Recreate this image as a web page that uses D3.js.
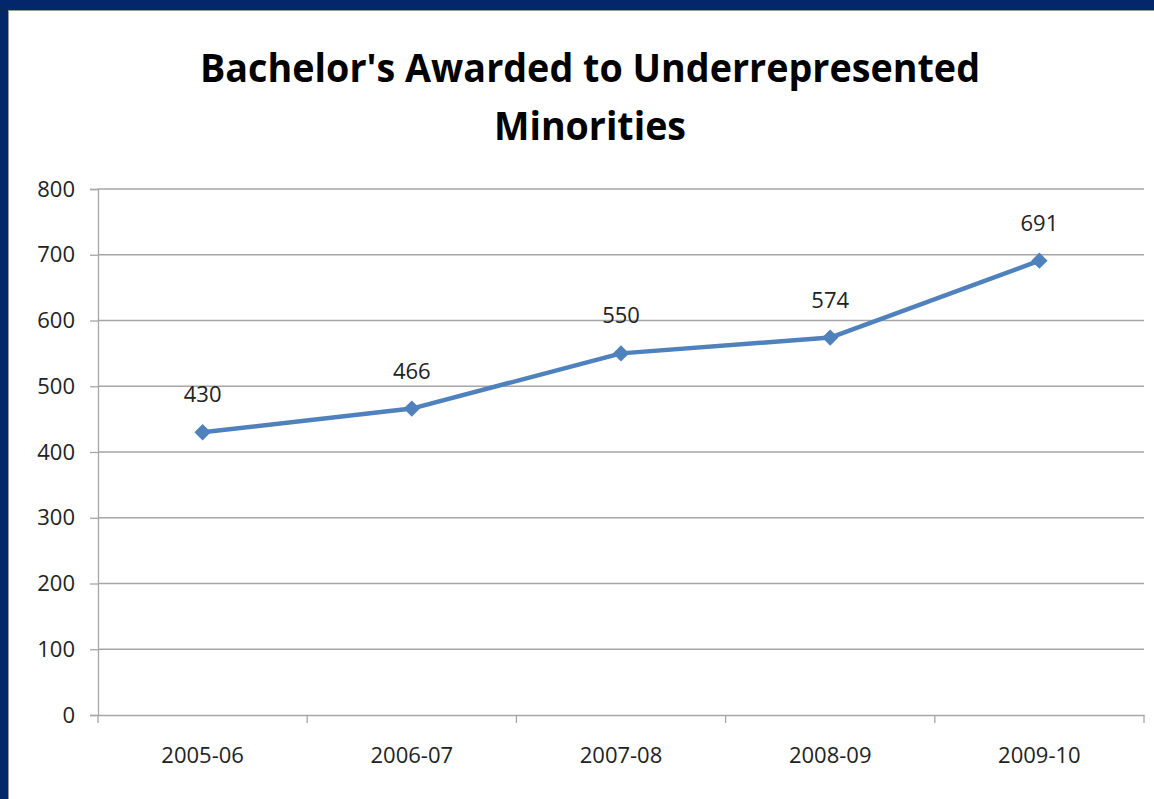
<!DOCTYPE html>
<html><head><meta charset="utf-8">
<script src="https://cdn.jsdelivr.net/npm/d3@7"></script>
<style>html,body{margin:0;padding:0;background:#fff;overflow:hidden}</style>
</head><body>
<svg id="c" width="1154" height="799"></svg>
<script>
const categories = ["2005-06","2006-07","2007-08","2008-09","2009-10"];
const values = [430,466,550,574,691];
const yTicks = [0,100,200,300,400,500,600,700,800];
const titleLines = ["Bachelor's Awarded to Underrepresented","Minorities"];

const svg = d3.select("#c");
const font = "'Open Sans', 'Noto Sans', sans-serif";
// frame
svg.append("rect").attr("x",0).attr("y",0).attr("width",1154).attr("height",799).attr("fill","#04266A");
svg.append("rect").attr("x",8).attr("y",10).attr("width",1146).attr("height",789).attr("fill","#9a9a9a");
svg.append("rect").attr("x",9).attr("y",11).attr("width",1145).attr("height",788).attr("fill","#fff");

const L=98,R=1144,T=189,B=715;
const x = d3.scaleBand().domain(categories).range([L,R]).padding(0);
const y = d3.scaleLinear().domain([0,800]).range([B,T]);

// title
svg.append("g").selectAll("text").data(titleLines).join("text")
  .attr("x",590).attr("y",(d,i)=>82+i*58).attr("text-anchor","middle")
  .attr("font-family",font).attr("font-weight","bold").attr("font-size",40)
  .attr("fill","#000").attr("textLength",(d,i)=>i===0?780:192).attr("lengthAdjust","spacingAndGlyphs")
  .text(d=>d);

// gridlines
svg.append("g").selectAll("line").data(yTicks.filter(d=>d>0)).join("line")
  .attr("x1",L).attr("x2",R).attr("y1",d=>y(d)).attr("y2",d=>y(d))
  .attr("stroke","#a6a6a6").attr("stroke-width",1.3);

// y axis
const ya = svg.append("g").attr("transform",`translate(${L},0)`)
  .call(d3.axisLeft(y).tickValues(yTicks).tickSize(8).tickPadding(15));
ya.select(".domain").attr("stroke","#a6a6a6").attr("stroke-width",1.3);
ya.selectAll(".tick line").attr("stroke","#a6a6a6").attr("stroke-width",1.3);
ya.selectAll("text").attr("font-family",font).attr("font-size",22).attr("fill","#222");

// x axis
const xa = svg.append("g").attr("transform",`translate(0,${B})`)
  .call(d3.axisBottom(x).tickSize(0).tickPadding(32));
xa.select(".domain").attr("stroke","#a6a6a6").attr("stroke-width",1.3);
xa.selectAll("text").attr("font-family",font).attr("font-size",22).attr("fill","#222");
const bounds = categories.map(c=>x(c)).concat([R]);
svg.append("g").selectAll("line").data(bounds).join("line")
  .attr("x1",d=>d).attr("x2",d=>d).attr("y1",B).attr("y2",B+8)
  .attr("stroke","#a6a6a6").attr("stroke-width",1.3);

const cx = c=>x(c)+x.bandwidth()/2;
const pts = categories.map((c,i)=>[cx(c),y(values[i])]);
svg.append("path").attr("d",d3.line()(pts)).attr("fill","none")
  .attr("stroke","#4F81BD").attr("stroke-width",4.5).attr("stroke-linejoin","round");
svg.append("g").selectAll("path").data(pts).join("path")
  .attr("transform",d=>`translate(${d[0]},${d[1]})`)
  .attr("d",d3.symbol().type(d3.symbolDiamond2).size(170)())
  .attr("fill","#4F81BD");
svg.append("g").selectAll("text").data(values).join("text")
  .attr("x",(d,i)=>cx(categories[i])).attr("y",d=>y(d)-30)
  .attr("text-anchor","middle").attr("font-family",font).attr("font-size",22).attr("fill","#222")
  .text(d=>d);
</script>
</body></html>
